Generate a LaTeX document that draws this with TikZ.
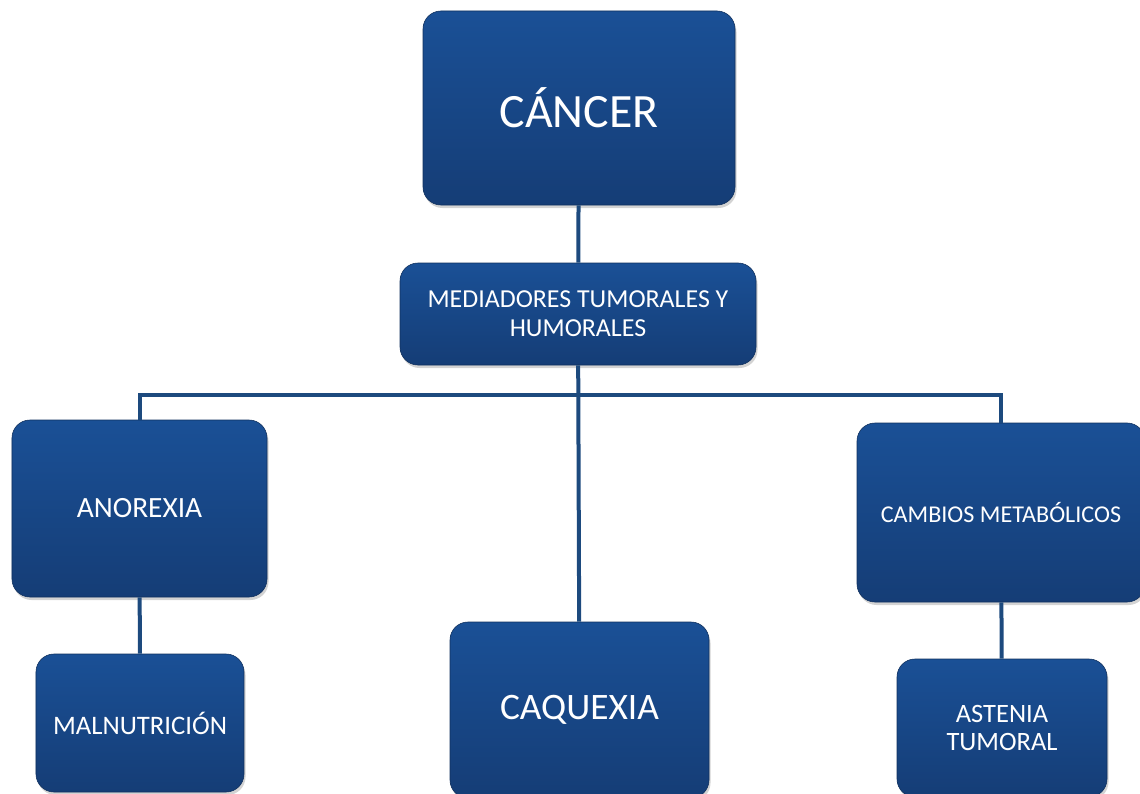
\documentclass[tikz,border=0pt]{standalone}
\usepackage{fontspec}
\setmainfont{Carlito}
\usetikzlibrary{positioning}
\usetikzlibrary{shadows}

\definecolor{boxtop}{HTML}{1A5096}
\definecolor{boxbot}{HTML}{153D76}
\definecolor{linkcol}{HTML}{1D4A7E}

\begin{document}
\begin{tikzpicture}[x=1bp,y=-1bp,
        box/.style={rectangle,rounded corners=18bp,align=center,text=white,
            top color=boxtop,bottom color=boxbot,draw=boxbot!80!black,line width=0.6bp,
            drop shadow={opacity=0.35,shadow xshift=1.5bp,shadow yshift=-3bp},
            inner sep=0pt},
        link/.style={draw=linkcol,line width=4bp}
        ]
        \clip (0,0) rectangle (1140,794);
        \node (cancer) [box,minimum width=312bp,minimum height=194bp,font=\fontsize{48}{54}\selectfont] at (579,108) {CÁNCER};
        \node (med) [box,minimum width=356bp,minimum height=102bp,font=\fontsize{26}{29}\selectfont] at (578,314) {MEDIADORES TUMORALES Y\\HUMORALES};
        \node (anorexia) [box,minimum width=255bp,minimum height=177bp,font=\fontsize{29.5}{32}\selectfont] at (139.5,508.5) {ANOREXIA};
        \node (caquexia) [box,minimum width=259bp,minimum height=176bp,font=\fontsize{37.5}{42}\selectfont] at (579.5,710) {CAQUEXIA};
        \node (cambios) [box,minimum width=288bp,minimum height=179bp,font=\fontsize{24.2}{28}\selectfont] at (1001,512.5) {CAMBIOS METABÓLICOS};
        \node (malnut) [box,minimum width=208bp,minimum height=138bp,font=\fontsize{26.8}{30}\selectfont] at (140,723) {MALNUTRICIÓN};
        \node (astenia) [box,minimum width=210bp,minimum height=138bp,font=\fontsize{26.6}{29}\selectfont] at (1002,728) {ASTENIA\\TUMORAL};
        \coordinate (bus) at (579,395);
        \draw[link] (cancer) -- (med);
        \draw[link] (med) -- (caquexia);
        \draw[link] (anorexia) |- (bus) -| (cambios);
        \draw[link] (anorexia) -- (malnut);
        \draw[link] (cambios) -- (astenia);
\end{tikzpicture}
\end{document}
